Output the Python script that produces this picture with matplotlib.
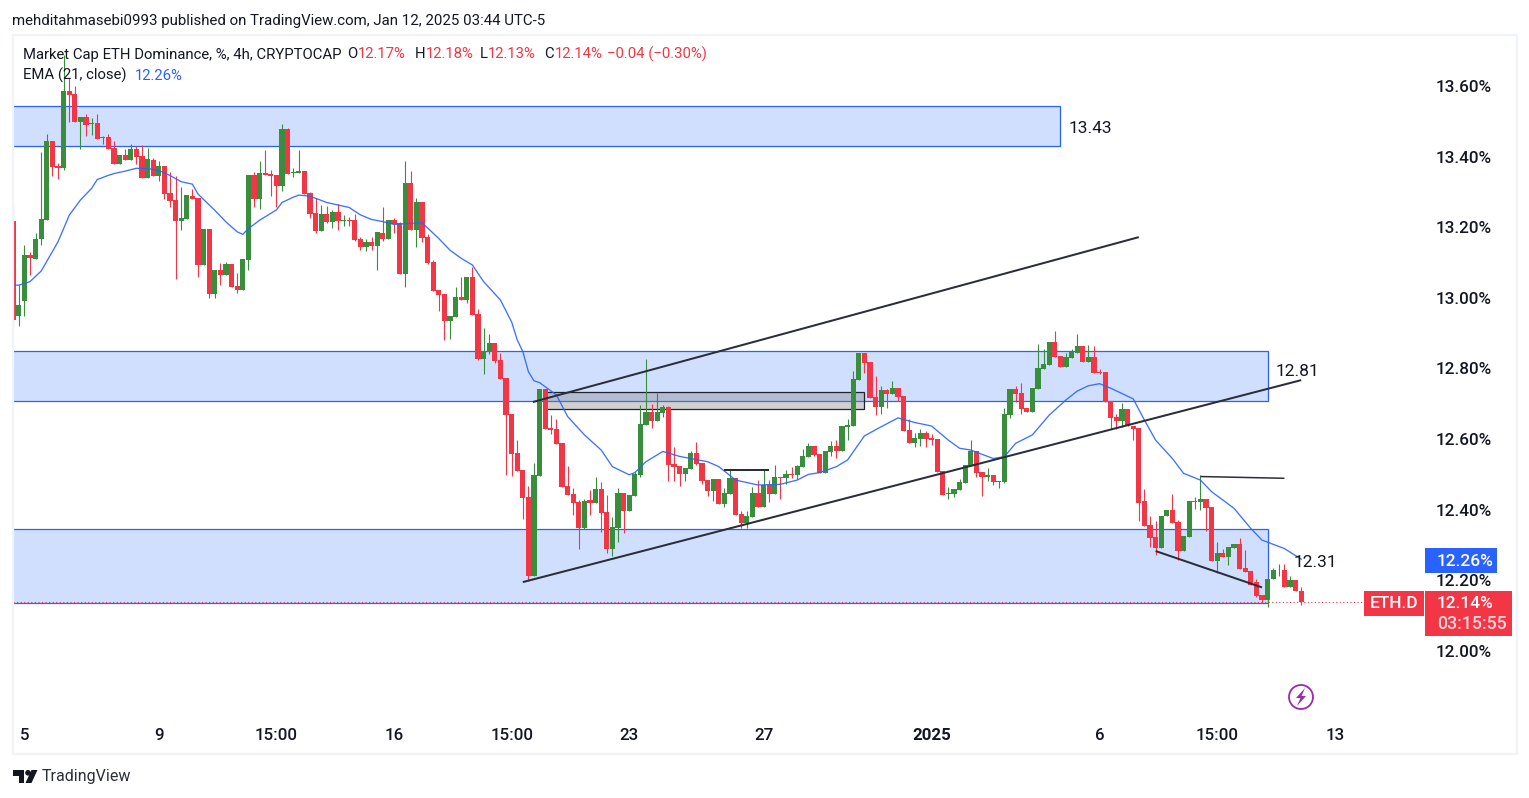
import matplotlib
matplotlib.use('Agg')
import matplotlib.pyplot as plt
from matplotlib.patches import Rectangle, Ellipse, Polygon

# ── Candles (4h bars, oldest first) ──────────────────────────────────────────
opens = [
    13.217, 12.95, 12.99, 13.121, 13.110, 13.166, 13.220, 13.444, 13.373, 13.368,
    13.586, 13.577, 13.498, 13.512, 13.491, 13.495, 13.454, 13.455, 13.424, 13.379,
    13.404, 13.390, 13.421, 13.402, 13.339, 13.390, 13.345, 13.373, 13.297, 13.277,
    13.217, 13.223, 13.288, 13.283, 13.093, 13.195, 13.011, 13.079, 13.065, 13.096,
    13.034, 13.022, 13.107, 13.348, 13.280, 13.354, 13.351, 13.348, 13.317, 13.478,
    13.353, 13.354, 13.359, 13.297, 13.240, 13.189, 13.237, 13.215, 13.243, 13.218,
    13.220, 13.220, 13.167, 13.144, 13.158, 13.147, 13.184, 13.167, 13.220, 13.212,
    13.067, 13.325, 13.192, 13.271, 13.172, 13.101, 13.022, 13.011, 12.934, 12.946,
    13.002, 12.994, 13.059, 12.954, 12.827, 12.846, 12.872, 12.824, 12.773, 12.671,
    12.561, 12.513, 12.436, 12.212, 12.496, 12.742, 12.632, 12.629, 12.589, 12.467,
    12.445, 12.422, 12.348, 12.428, 12.419, 12.459, 12.394, 12.289, 12.348, 12.448,
    12.397, 12.439, 12.499, 12.640, 12.677, 12.652, 12.674, 12.691, 12.530, 12.524,
    12.501, 12.516, 12.561, 12.533, 12.484, 12.453, 12.487, 12.416, 12.445, 12.490,
    12.388, 12.362, 12.379, 12.447, 12.408, 12.470, 12.444, 12.493, 12.490, 12.501,
    12.498, 12.521, 12.549, 12.580, 12.558, 12.504, 12.563, 12.580, 12.566, 12.634,
    12.637, 12.767, 12.844, 12.818, 12.719, 12.691, 12.739, 12.728, 12.745, 12.722,
    12.626, 12.589, 12.600, 12.617, 12.603, 12.600, 12.510, 12.445, 12.444, 12.456,
    12.476, 12.524, 12.566, 12.507, 12.493, 12.498, 12.478, 12.478, 12.668, 12.742,
    12.731, 12.688, 12.677, 12.742, 12.799, 12.810, 12.875, 12.835, 12.804, 12.830,
    12.844, 12.864, 12.818, 12.833, 12.789, 12.790, 12.708, 12.663, 12.651, 12.685,
    12.637, 12.631, 12.425, 12.357, 12.323, 12.291, 12.382, 12.399, 12.365, 12.283,
    12.323, 12.425, 12.422, 12.430, 12.408, 12.255, 12.277, 12.266, 12.291, 12.303,
    12.235, 12.226, 12.195, 12.158, 12.144, 12.204, 12.228, 12.229, 12.181, 12.201,
    12.170,
]
highs = [
    13.267, 13.036, 13.15, 13.13, 13.184, 13.413, 13.464, 13.444, 13.383, 13.688,
    13.622, 13.601, 13.512, 13.522, 13.508, 13.522, 13.458, 13.464, 13.444, 13.404,
    13.421, 13.437, 13.430, 13.433, 13.423, 13.397, 13.388, 13.373, 13.356, 13.345,
    13.314, 13.291, 13.308, 13.283, 13.195, 13.195, 13.079, 13.099, 13.102, 13.096,
    13.070, 13.110, 13.348, 13.356, 13.388, 13.419, 13.362, 13.348, 13.492, 13.481,
    13.368, 13.419, 13.359, 13.300, 13.283, 13.263, 13.260, 13.249, 13.266, 13.235,
    13.229, 13.237, 13.172, 13.167, 13.172, 13.186, 13.257, 13.220, 13.226, 13.215,
    13.388, 13.359, 13.283, 13.271, 13.181, 13.107, 13.022, 13.011, 12.948, 13.031,
    13.059, 13.059, 13.087, 12.968, 12.914, 12.897, 12.872, 12.844, 12.773, 12.671,
    12.598, 12.513, 12.467, 12.533, 12.742, 12.742, 12.669, 12.657, 12.589, 12.524,
    12.462, 12.428, 12.431, 12.456, 12.493, 12.479, 12.442, 12.380, 12.462, 12.448,
    12.442, 12.507, 12.697, 12.827, 12.700, 12.731, 12.697, 12.694, 12.578, 12.524,
    12.518, 12.566, 12.592, 12.533, 12.484, 12.487, 12.487, 12.462, 12.513, 12.490,
    12.397, 12.397, 12.464, 12.484, 12.512, 12.484, 12.527, 12.493, 12.512, 12.521,
    12.527, 12.572, 12.589, 12.580, 12.558, 12.566, 12.595, 12.597, 12.637, 12.657,
    12.793, 12.844, 12.844, 12.818, 12.779, 12.750, 12.741, 12.765, 12.745, 12.722,
    12.657, 12.617, 12.629, 12.623, 12.614, 12.600, 12.510, 12.464, 12.459, 12.487,
    12.527, 12.597, 12.566, 12.507, 12.518, 12.498, 12.481, 12.688, 12.742, 12.750,
    12.759, 12.688, 12.745, 12.869, 12.855, 12.875, 12.906, 12.835, 12.844, 12.855,
    12.898, 12.864, 12.867, 12.864, 12.798, 12.790, 12.708, 12.672, 12.702, 12.685,
    12.637, 12.631, 12.459, 12.382, 12.368, 12.382, 12.399, 12.444, 12.371, 12.325,
    12.425, 12.436, 12.498, 12.430, 12.408, 12.308, 12.289, 12.294, 12.303, 12.320,
    12.286, 12.226, 12.204, 12.158, 12.204, 12.235, 12.246, 12.246, 12.212, 12.201,
    12.18,
]
lows = [
    12.92, 12.92, 12.95, 13.065, 13.110, 13.149, 13.220, 13.345, 13.336, 13.362,
    13.498, 13.498, 13.421, 13.458, 13.461, 13.450, 13.437, 13.421, 13.379, 13.379,
    13.390, 13.390, 13.379, 13.339, 13.339, 13.345, 13.331, 13.280, 13.257, 13.053,
    13.192, 13.223, 13.280, 13.059, 13.093, 13.000, 13.000, 13.036, 13.065, 13.031,
    13.013, 13.022, 13.079, 13.258, 13.252, 13.348, 13.288, 13.257, 13.303, 13.351,
    13.342, 13.354, 13.294, 13.226, 13.184, 13.189, 13.212, 13.198, 13.192, 13.203,
    13.203, 13.161, 13.135, 13.133, 13.135, 13.079, 13.161, 13.167, 13.184, 13.067,
    13.031, 13.192, 13.144, 13.158, 13.096, 13.019, 12.963, 12.880, 12.883, 12.946,
    12.994, 12.985, 12.951, 12.824, 12.784, 12.841, 12.815, 12.771, 12.499, 12.496,
    12.510, 12.374, 12.198, 12.212, 12.496, 12.629, 12.615, 12.586, 12.465, 12.442,
    12.385, 12.289, 12.346, 12.385, 12.419, 12.337, 12.278, 12.269, 12.309, 12.334,
    12.395, 12.439, 12.493, 12.640, 12.632, 12.652, 12.663, 12.482, 12.482, 12.467,
    12.482, 12.516, 12.527, 12.473, 12.439, 12.425, 12.416, 12.408, 12.445, 12.385,
    12.348, 12.348, 12.379, 12.408, 12.408, 12.422, 12.444, 12.430, 12.473, 12.490,
    12.487, 12.521, 12.549, 12.552, 12.504, 12.504, 12.552, 12.546, 12.566, 12.597,
    12.637, 12.767, 12.787, 12.716, 12.668, 12.671, 12.688, 12.728, 12.708, 12.623,
    12.589, 12.578, 12.580, 12.578, 12.583, 12.507, 12.442, 12.430, 12.436, 12.456,
    12.476, 12.524, 12.493, 12.439, 12.481, 12.470, 12.461, 12.476, 12.660, 12.705,
    12.671, 12.677, 12.677, 12.742, 12.799, 12.810, 12.833, 12.804, 12.804, 12.830,
    12.844, 12.818, 12.818, 12.787, 12.783, 12.705, 12.629, 12.629, 12.634, 12.637,
    12.597, 12.368, 12.354, 12.294, 12.272, 12.291, 12.382, 12.362, 12.257, 12.283,
    12.323, 12.402, 12.399, 12.340, 12.255, 12.221, 12.266, 12.243, 12.291, 12.232,
    12.223, 12.187, 12.153, 12.135, 12.125, 12.204, 12.212, 12.181, 12.181, 12.170,
    12.13,
]
closes = [
    12.937, 12.98, 13.12, 13.112, 13.168, 13.222, 13.444, 13.371, 13.369, 13.586,
    13.574, 13.498, 13.512, 13.489, 13.494, 13.450, 13.456, 13.421, 13.379, 13.404,
    13.390, 13.421, 13.399, 13.339, 13.393, 13.345, 13.373, 13.294, 13.274, 13.217,
    13.226, 13.291, 13.280, 13.093, 13.195, 13.011, 13.079, 13.065, 13.096, 13.031,
    13.022, 13.110, 13.348, 13.280, 13.354, 13.348, 13.345, 13.317, 13.478, 13.351,
    13.357, 13.359, 13.294, 13.237, 13.189, 13.237, 13.215, 13.243, 13.218, 13.220,
    13.218, 13.164, 13.144, 13.158, 13.147, 13.186, 13.167, 13.220, 13.209, 13.067,
    13.325, 13.192, 13.271, 13.169, 13.099, 13.019, 13.008, 12.934, 12.948, 13.002,
    12.994, 13.059, 12.951, 12.827, 12.849, 12.872, 12.821, 12.771, 12.669, 12.558,
    12.510, 12.433, 12.212, 12.499, 12.742, 12.629, 12.626, 12.586, 12.465, 12.442,
    12.419, 12.348, 12.425, 12.419, 12.459, 12.391, 12.289, 12.351, 12.448, 12.397,
    12.442, 12.501, 12.643, 12.677, 12.652, 12.677, 12.691, 12.527, 12.521, 12.501,
    12.518, 12.561, 12.530, 12.482, 12.453, 12.487, 12.416, 12.448, 12.490, 12.385,
    12.362, 12.382, 12.447, 12.408, 12.470, 12.444, 12.493, 12.490, 12.501, 12.498,
    12.524, 12.552, 12.580, 12.555, 12.504, 12.566, 12.580, 12.566, 12.637, 12.640,
    12.770, 12.844, 12.815, 12.716, 12.691, 12.739, 12.728, 12.745, 12.719, 12.623,
    12.589, 12.603, 12.617, 12.600, 12.598, 12.507, 12.442, 12.447, 12.459, 12.478,
    12.527, 12.566, 12.504, 12.493, 12.498, 12.478, 12.481, 12.671, 12.742, 12.728,
    12.685, 12.677, 12.745, 12.801, 12.813, 12.875, 12.833, 12.804, 12.833, 12.847,
    12.864, 12.818, 12.833, 12.787, 12.786, 12.705, 12.660, 12.651, 12.685, 12.637,
    12.629, 12.419, 12.354, 12.320, 12.291, 12.382, 12.399, 12.362, 12.283, 12.325,
    12.425, 12.422, 12.430, 12.405, 12.255, 12.277, 12.266, 12.294, 12.303, 12.232,
    12.223, 12.187, 12.155, 12.144, 12.204, 12.229, 12.230, 12.181, 12.201, 12.170,
    12.14,
]

# ── EMA(21) at these bars ────────────────────────────────────────────────────
ema_bars = [0, 1, 3, 5, 7, 8, 9, 10, 12, 14, 15, 17, 18, 20, 22, 24, 25, 27, 30, 32,
            33, 36, 38, 40, 41, 42, 44, 47, 48, 50, 51, 53, 56, 60, 62, 64, 66, 68,
            73, 76, 78, 80, 82, 84, 87, 89, 90, 91, 92, 93, 94, 97, 99, 102, 105,
            107, 110, 111, 113, 116, 119, 124, 126, 129, 131, 133, 137, 140, 142,
            144, 147, 149, 152, 155, 158, 161, 164, 167, 169, 171, 175, 177, 179,
            182, 185, 188, 190, 192, 194, 196, 200, 202, 204, 207, 209, 212, 214,
            218, 221, 223, 227, 230]
ema_vals = [13.036, 13.036, 13.046, 13.076, 13.131, 13.159, 13.196, 13.234, 13.277,
            13.310, 13.335, 13.347, 13.352, 13.359, 13.367, 13.366, 13.364, 13.355,
            13.329, 13.322, 13.294, 13.248, 13.215, 13.187, 13.180, 13.196, 13.220,
            13.249, 13.270, 13.285, 13.291, 13.288, 13.270, 13.256, 13.235, 13.222,
            13.216, 13.208, 13.213, 13.168, 13.135, 13.112, 13.093, 13.046, 12.994,
            12.932, 12.881, 12.848, 12.791, 12.765, 12.760, 12.725, 12.664, 12.612,
            12.569, 12.522, 12.499, 12.505, 12.536, 12.565, 12.551, 12.536, 12.522,
            12.484, 12.477, 12.470, 12.472, 12.484, 12.500, 12.505, 12.522, 12.541,
            12.609, 12.635, 12.660, 12.647, 12.637, 12.597, 12.574, 12.569, 12.545,
            12.550, 12.588, 12.612, 12.668, 12.711, 12.736, 12.751, 12.757, 12.744,
            12.714, 12.654, 12.597, 12.545, 12.503, 12.484, 12.451, 12.404, 12.347,
            12.314, 12.290, 12.26]

# ── Axis labels ──────────────────────────────────────────────────────────────
x_tick_bars = [2, 26, 47, 68, 89, 110, 134, 164, 194, 215, 236]
x_tick_labels = ["5", "9", "15:00", "16", "15:00", "23", "27", "2025", "6", "15:00", "13"]
y_tick_vals = [12.0, 12.2, 12.4, 12.6, 12.8, 13.0, 13.2, 13.4, 13.6]

# ── Drawings: supply/demand zones (right bar, top, bottom) ───────────────────
zone_right = [187, 224, 224]
zone_top = [13.542, 12.850, 12.345]
zone_bottom = [13.431, 12.708, 12.136]

# Trend lines: bar0, price0, bar1, price1
line_bar0 = [92.8, 91, 127, 212, 204]
line_price0 = [12.705, 12.195, 12.512, 12.494, 12.283]
line_bar1 = [201, 230, 135, 227, 223]
line_price1 = [13.172, 12.767, 12.512, 12.489, 12.180]

# ── Colours ──────────────────────────────────────────────────────────────────
C_UP = "#388E3C"
C_DOWN = "#F23645"
C_BLUE = "#2962FF"
C_TEXT = "#131722"
C_ZONE = "#D1DFFF"
C_FRAME = "#F0F3FA"

W, H = 1529, 798
plt.rcParams["font.family"] = ["Roboto", "DejaVu Sans"]


def fx(x):
    return x / W


def fy(y):
    return 1 - y / H


def fig_text(x, y, s, **kw):
    kw.setdefault("va", "center")
    kw.setdefault("color", C_TEXT)
    fig.text(fx(x), fy(y), s, **kw)


def fig_rect(x0, y0, x1, y1, **kw):
    fig.add_artist(Rectangle((fx(x0), fy(y1)), fx(x1 - x0), (y1 - y0) / H,
                             transform=fig.transFigure, **kw))


def fig_poly(points, color):
    fig.add_artist(Polygon([(fx(x), fy(y)) for x, y in points], closed=True, facecolor=color,
                           edgecolor="none", transform=fig.transFigure))


fig = plt.figure(figsize=(W / 100, H / 100), dpi=100, facecolor="white")

# panel frame
fig_rect(12.5, 34.5, 1516.5, 754, facecolor="none", edgecolor=C_FRAME, linewidth=1.6)

# axes in pixels: x 13..1424, y 36..716; one bar = 5.6 px, 1.00 price = 353.1 px
ax = fig.add_axes([fx(13), fy(716), (1424 - 13) / W, (716 - 36) / H])
ax.set_xlim((13 - 13.2) / 5.6, (1424 - 13.2) / 5.6)
ax.set_ylim(13.6 - (716 - 86) / 353.1, 13.6 - (36 - 86) / 353.1)
ax.patch.set_alpha(0)
for s in ax.spines.values():
    s.set_visible(False)

ax.set_xticks(x_tick_bars)
ax.set_xticklabels(x_tick_labels, fontsize=12.2, color=C_TEXT, fontweight="medium")
ax.get_xticklabels()[7].set_fontweight("bold")
ax.yaxis.tick_right()
ax.set_yticks(y_tick_vals)
ax.set_yticklabels([f"{v:.2f}%" for v in y_tick_vals], fontsize=12.3, color=C_TEXT, fontweight="medium")
ax.tick_params(axis="x", length=0, pad=8.8)
ax.tick_params(axis="y", length=0, pad=8.4)

# zones
for r, t, b in zip(zone_right, zone_top, zone_bottom):
    ax.add_patch(Rectangle((-2, b), r + 2, t - b, facecolor=C_ZONE, edgecolor=C_BLUE,
                           linewidth=0.9, zorder=1))
# grey box
ax.add_patch(Rectangle((95, 12.685), 57, 0.048, facecolor=(0.5, 0.5, 0.5, 0.37),
                       edgecolor="#1E222D", linewidth=0.9, zorder=1.5))

# candles
bars = list(range(len(closes)))
colors = [C_UP if c >= o else C_DOWN for o, c in zip(opens, closes)]
ax.vlines(bars, lows, highs, colors=colors, linewidth=0.8, zorder=2)
ax.bar(bars, [abs(c - o) for o, c in zip(opens, closes)], width=0.94,
       bottom=[min(o, c) for o, c in zip(opens, closes)], color=colors, linewidth=0, zorder=2.1)

# EMA
ax.plot(ema_bars, ema_vals, color=C_BLUE, linewidth=0.95, alpha=0.9, zorder=3)

# trend lines
for i, (b0, p0, b1, p1) in enumerate(zip(line_bar0, line_price0, line_bar1, line_price1)):
    lw = 1.1 if i == 3 else 1.45
    ax.plot([b0, b1], [p0, p1], color="#2A2E39", linewidth=lw, solid_capstyle="butt", zorder=4)

# last price line
ax.axhline(closes[-1], color=C_DOWN, linewidth=0.8, linestyle=(0, (1, 2.2)), zorder=2.5)

# drawing labels
ax.text(188.5, 13.479, "13.43", fontsize=12.5, va="center", color=C_TEXT, zorder=6)
ax.text(225.5, 12.792, "12.81", fontsize=12.5, va="center", color=C_TEXT, zorder=6)
ax.text(228.7, 12.251, "12.31", fontsize=12.5, va="center", color=C_TEXT, zorder=6)

# header and legend
fig_text(12, 20.5, "mehditahmasebi0993 published on TradingView.com, Jan 12, 2025 03:44 UTC-5", fontsize=10.85)
fig_text(23, 54.5, "Market Cap ETH Dominance, %, 4h, CRYPTOCAP", fontsize=10.75)
for x, prefix, value in [(347, "O", "12.17%"), (415, "H", "12.18%"), (480, "L", "12.13%"), (544, "C", "12.14%")]:
    fig_text(x, 54.5, prefix, fontsize=10.75)
    fig_text(x + (11 if prefix != "L" else 8), 54.5, value, fontsize=10.75, color=C_DOWN)
fig_text(607, 54.5, "−0.04 (−0.30%)", fontsize=10.75, color=C_DOWN)
fig_text(23, 75.5, "EMA (21, close)", fontsize=10.75)
fig_text(135, 75.5, "12.26%", fontsize=10.75, color=C_BLUE)

# price tags
fig_rect(1425, 548, 1497, 573, facecolor=C_BLUE, edgecolor="none")
fig_text(1437, 561, "12.26%", fontsize=12.5, color="white", fontweight="medium")
fig_rect(1364, 591, 1424, 616, facecolor=C_DOWN, edgecolor="none")
fig_text(1394, 604, "ETH.D", fontsize=12.5, color="white", ha="center", fontweight="medium")
fig_rect(1425, 591, 1512, 636, facecolor=C_DOWN, edgecolor="none")
fig_text(1437, 604, "12.14%", fontsize=12.5, color="white", fontweight="medium")
fig_text(1437, 624, "03:15:55", fontsize=12.8, color="#FFD5D9", fontweight="medium")

# lightning mark
fig.add_artist(Ellipse((fx(1301), fy(697)), 24 / W, 24 / H, facecolor="none", edgecolor="#9C27B0",
                       linewidth=1.3, transform=fig.transFigure))
fig_poly([(1305, 688), (1296, 698), (1300.5, 698), (1297, 706), (1306, 696), (1301.5, 696)], "#9C27B0")

# TradingView mark
fig_poly([(13, 770), (24, 770), (24, 783), (18.5, 783), (18.5, 775.5), (13, 775.5)], C_TEXT)
fig_poly([(31.5, 770), (37.5, 770), (31.5, 783), (25.5, 783)], C_TEXT)
fig.add_artist(Ellipse((fx(28), fy(772.8)), 5.6 / W, 5.6 / H, facecolor=C_TEXT, edgecolor="none",
                       transform=fig.transFigure))
fig_text(42, 777, "TradingView", fontsize=11.5, color="#2A2E39")

fig.savefig("out.png", dpi=100)
